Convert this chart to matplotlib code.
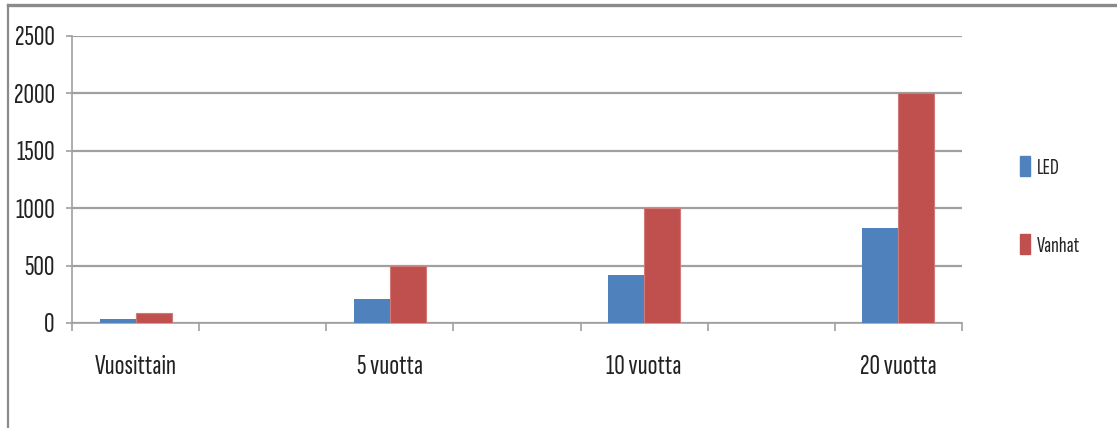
import matplotlib
matplotlib.use("Agg")
import matplotlib.pyplot as plt
from matplotlib.patches import Patch
from matplotlib.lines import Line2D
import numpy as np

categories = ["Vuosittain", "", "5 vuotta", "", "10 vuotta", "", "20 vuotta"]
led = [35, None, 205, None, 420, None, 830]
vanhat = [90, None, 500, None, 1000, None, 2000]
series_names = ["LED", "Vanhat"]
yticks = [0, 500, 1000, 1500, 2000, 2500]

blue = "#4F81BD"
red = "#C0504D"
gray = "#A0A0A0"

plt.rcParams['font.family'] = ['Sofia Sans Extra Condensed', 'DejaVu Sans']

fig = plt.figure(figsize=(11.17, 4.28), dpi=100)
W, H = 1117, 428
ax = fig.add_axes([72 / W, (H - 323) / H, (962 - 72) / W, (323 - 36) / H])

x = np.arange(len(categories))
bw = 36 / 127
idx = [i for i, v in enumerate(led) if v is not None]
ax.bar([x[i] - bw / 2 for i in idx], [led[i] for i in idx], width=bw, color=blue, zorder=3)
ax.bar([x[i] + bw / 2 for i in idx], [vanhat[i] for i in idx], width=bw, color=red,
       edgecolor="#D07A78", linewidth=0.8, zorder=3)

ax.set_xlim(-0.5, len(categories) - 0.5)
ax.set_ylim(0, 2500)
ax.set_yticks(yticks)
ax.set_yticklabels([str(v) for v in yticks], fontsize=21, color="#222222")
ax.yaxis.grid(True, color=gray, linewidth=1.6, zorder=0)

ax.set_xticks([x[i] for i in idx])
ax.set_xticklabels([categories[i] for i in idx], fontsize=21, color="#222222")
ax.set_xticks(np.arange(-0.5, len(categories)), minor=True)
ax.tick_params(axis='x', which='major', length=0, pad=23)
ax.tick_params(axis='x', which='minor', length=5.5, width=1.2, color=gray)
ax.tick_params(axis='y', length=4.5, width=1.2, color=gray, pad=8)

for s in ['top', 'right']:
    ax.spines[s].set_visible(False)
for s in ['left', 'bottom']:
    ax.spines[s].set_color(gray)
    ax.spines[s].set_linewidth(1.2)

handles = [Patch(facecolor=blue, edgecolor=blue), Patch(facecolor=red, edgecolor=red)]
leg = fig.legend(handles, series_names, loc='center left', bbox_to_anchor=(1000 / W, (H - 206) / H),
                 frameon=False, fontsize=16, handlelength=0.45, handleheight=1.0,
                 handletextpad=0.3, labelspacing=2.55)
for t in leg.get_texts():
    t.set_color("#222222")

# outer chart border (top and left)
fig.add_artist(Line2D([7.5 / W, 1], [1 - 5 / H, 1 - 5 / H], transform=fig.transFigure,
                      color="#8A8A8A", linewidth=2.4))
fig.add_artist(Line2D([7.5 / W, 7.5 / W], [0, 1 - 5 / H], transform=fig.transFigure,
                      color="#8A8A8A", linewidth=1.6))

fig.savefig("out.png", dpi=100)
